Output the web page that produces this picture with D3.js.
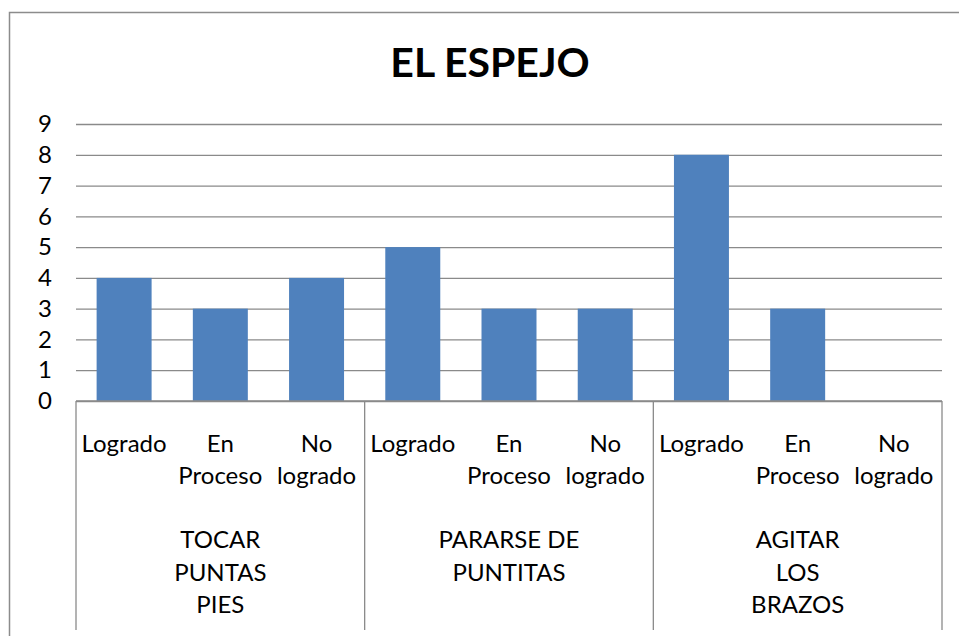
<html>
    <head>
        <script src="https://d3js.org/d3.v7.min.js"></script>
        <title>EL ESPEJO</title>
        <style>
            body { margin: 0; background: #fff; }
            text { font-family: Lato, "Open Sans", sans-serif; fill: #000; }
        </style>
    </head>
    <body>
        <div class="viz"></div>
        <script type="text/javascript">
            var titleText = "EL ESPEJO";
            var groupLabels = [["TOCAR", "PUNTAS", "PIES"], ["PARARSE DE", "PUNTITAS"], ["AGITAR", "LOS", "BRAZOS"]];
            var levelLabels = [["Logrado"], ["En", "Proceso"], ["No", "logrado"]];
            var tocarValues = [4, 3, 4];
            var pararseValues = [5, 3, 3];
            var agitarValues = [8, 3, 0];
            var yTicks = [0, 1, 2, 3, 4, 5, 6, 7, 8, 9];

            var vizWidth = 959;
            var vizHeight = 636;
            var plotLeft = 76, plotRight = 942, plotTop = 124, plotBottom = 401;

            var seriesByGroup = [tocarValues, pararseValues, agitarValues];
            var dataBar = [];
            seriesByGroup.forEach(function(vals, g){
                vals.forEach(function(v, i){
                    dataBar.push({key: g + "-" + i, group: g, level: i, value: v});
                });
            });

            var svg = d3.select("div")
                        .append("svg")
                        .attr("width", vizWidth)
                        .attr("height", vizHeight);

            // chart frame (runs off the right and bottom of the picture)
            svg.append("rect")
                .attr("x", 9.5).attr("y", 12.5)
                .attr("width", 980).attr("height", 680)
                .attr("fill", "none")
                .attr("stroke", "#8c8c8c")
                .attr("stroke-width", 1.5);

            svg.append("text")
                .attr("x", 490).attr("y", 77)
                .attr("text-anchor", "middle")
                .style("font-size", "41px")
                .style("font-weight", "bold")
                .text(titleText);

            var xScale = d3.scaleBand()
                    .domain(dataBar.map(function(d){ return d.key; }))
                    .range([plotLeft, plotRight])
                    .paddingInner(0.75 / 1.75)
                    .paddingOuter(0.75 / 3.5);

            var yScale = d3.scaleLinear()
                    .domain([0, 9])
                    .range([plotBottom, plotTop]);

            var yAxis = svg.append("g")
                    .attr("transform", "translate(" + plotLeft + ",0)")
                    .call(d3.axisLeft(yScale)
                        .tickValues(yTicks)
                        .tickSize(-(plotRight - plotLeft))
                        .tickPadding(24)
                        .tickFormat(d3.format("d")));
            yAxis.select(".domain").remove();
            yAxis.selectAll(".tick line").attr("stroke", "#8a8a8a").attr("stroke-width", 1.3);
            yAxis.selectAll(".tick text")
                .style("font-size", "24px")
                .attr("fill", "#000");

            svg.selectAll("rect.bar")
                .data(dataBar)
                .enter()
                .append("rect")
                .attr("class", "bar")
                .attr("x", function(d){ return xScale(d.key); })
                .attr("width", xScale.bandwidth())
                .attr("y", function(d){ return yScale(d.value); })
                .attr("height", function(d){ return yScale(0) - yScale(d.value); })
                .attr("fill", "#4f81bd");

            // category axis: baseline and group separators
            var step = xScale.step();
            var groupEdges = [0, 1, 2, 3].map(function(g){ return plotLeft + g * 3 * step; });
            svg.append("line")
                .attr("x1", plotLeft).attr("x2", plotRight)
                .attr("y1", plotBottom).attr("y2", plotBottom)
                .attr("stroke", "#8a8a8a").attr("stroke-width", 1.3);
            svg.selectAll("line.sep")
                .data(groupEdges)
                .enter()
                .append("line")
                .attr("class", "sep")
                .attr("x1", function(d){ return d; }).attr("x2", function(d){ return d; })
                .attr("y1", plotBottom).attr("y2", 630)
                .attr("stroke", "#8a8a8a").attr("stroke-width", 1.3);

            // inner level labels
            var levelText = svg.selectAll("text.level")
                .data(dataBar)
                .enter()
                .append("text")
                .attr("class", "level")
                .attr("text-anchor", "middle")
                .style("font-size", "24px");
            levelText.selectAll("tspan")
                .data(function(d){
                    var cx = xScale(d.key) + xScale.bandwidth() / 2;
                    return levelLabels[d.level].map(function(s, i){ return {s: s, i: i, cx: cx}; });
                })
                .enter()
                .append("tspan")
                .attr("x", function(t){ return t.cx; })
                .attr("y", function(t){ return 452 + t.i * 32; })
                .text(function(t){ return t.s; });

            // outer group labels
            var groupText = svg.selectAll("text.group")
                .data(groupLabels)
                .enter()
                .append("text")
                .attr("class", "group")
                .attr("text-anchor", "middle")
                .style("font-size", "24px");
            groupText.selectAll("tspan")
                .data(function(lines, g){
                    var cx = (groupEdges[g] + groupEdges[g + 1]) / 2;
                    return lines.map(function(s, i){ return {s: s, i: i, cx: cx}; });
                })
                .enter()
                .append("tspan")
                .attr("x", function(t){ return t.cx; })
                .attr("y", function(t){ return 548 + t.i * 32.5; })
                .text(function(t){ return t.s; });
        </script>
    </body>
</html>
